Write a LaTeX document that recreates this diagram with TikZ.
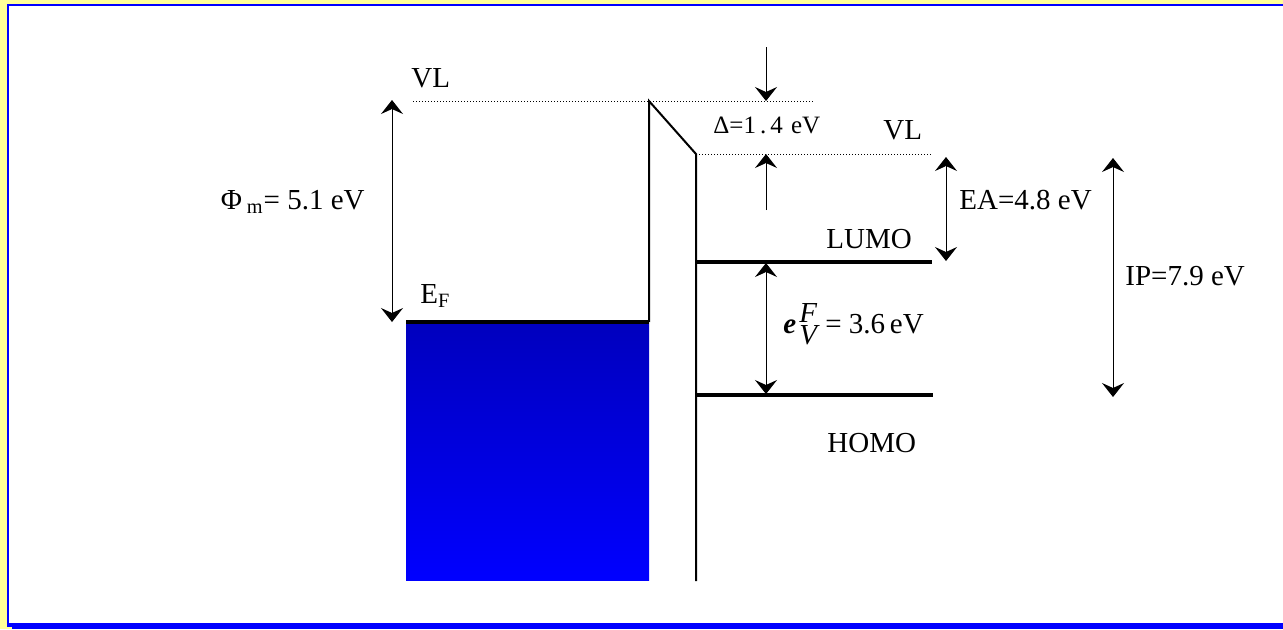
\documentclass[tikz,border=0pt]{standalone}
\usepackage{fontspec}
\setmainfont{Liberation Serif}
\usetikzlibrary{arrows.meta,positioning}
\definecolor{frameYellow}{HTML}{FFFF99}
\definecolor{frameBlue}{HTML}{0000FF}
\definecolor{metalTop}{HTML}{0000BE}
\definecolor{metalBot}{HTML}{0000FF}

\begin{document}
\begin{tikzpicture}[x=0.5pt,y=-0.5pt,font=\fontsize{14.5}{17}\selectfont,
  level/.style={line width=1.8pt},
  wall/.style={line width=1pt},
  vac/.style={line width=0.5pt,dash pattern=on 0.5pt off 1pt},
  gap/.style={line width=0.5pt,{Stealth[length=7pt,width=11pt,inset=2.5pt]}-{Stealth[length=7pt,width=11pt,inset=2.5pt]}},
  push/.style={line width=0.5pt,-{Stealth[length=7pt,width=11pt,inset=2.5pt]}},
  lab/.style={inner sep=0pt,anchor=base west}]
  \useasboundingbox (0,0) rectangle (1283,629);
  % frame
  \fill[frameYellow] (0,0) rectangle (1283,629);
  \fill[white] (8,5) rectangle (1283,624);
  \fill[frameBlue] (7,4) rectangle (1283,6);
  \fill[frameBlue] (7,4) rectangle (9,627);
  \fill[frameBlue] (8,623) rectangle (1283,627);
  \fill[frameBlue] (12,627) rectangle (1283,629);

  % metal
  \shade[top color=metalTop,bottom color=metalBot] (406,323) rectangle (649,580);
  \coordinate (efL) at (406,322);
  \coordinate (efR) at (649,322);
  \coordinate (vlM) at (649,101);
  \coordinate (vlO) at (696,154);
  \coordinate (orgB) at (696,581);
  \coordinate (vlML) at (413,101);
  \coordinate (vlMR) at (815,101);
  \coordinate (vlOR) at (933,154);
  \coordinate (lumoL) at (696,262);
  \coordinate (lumoR) at (932,262);
  \coordinate (homoL) at (696,395);
  \coordinate (homoR) at (933,395);
  \draw[level] (efL) -- (efR);
  \draw[wall] (efR) -- (vlM) -- (vlO) -- (orgB);
  \draw[vac] (vlML) -- (vlMR);
  \draw[vac] (vlO) -- (vlOR);
  \draw[level] (lumoL) -- (lumoR);
  \draw[level] (homoL) -- (homoR);

  % arrows
  \coordinate (phiT) at (392,100);
  \coordinate (phiB) at (392,322);
  \coordinate (dTopS) at (766,47);
  \coordinate (dTopE) at (766,101);
  \coordinate (dBotS) at (766,210);
  \coordinate (dBotE) at (766,154);
  \coordinate (egT) at (766,263);
  \coordinate (egB) at (766,394);
  \coordinate (eaT) at (946,157);
  \coordinate (eaB) at (946,261);
  \coordinate (ipT) at (1113,158);
  \coordinate (ipB) at (1113,397);
  \draw[gap] (phiT) -- (phiB);
  \draw[push] (dTopS) -- (dTopE);
  \draw[push] (dBotS) -- (dBotE);
  \draw[gap] (egT) -- (egB);
  \draw[gap] (eaT) -- (eaB);
  \draw[gap] (ipT) -- (ipB);

  % labels
  \node[lab] (vlMLab) at (411,87) {VL};
  \node[lab] (vlOLab) at (883,139) {VL};
  \node[lab,font=\fontsize{12.5}{15}\selectfont] (deltaLab) at (713,133) {Δ=1\kern2pt.\kern2pt4\kern1pt{} eV};
  \node[inner sep=0pt,anchor=base east] (phiLab) at (365,209) {Φ\,\textsubscript{m}= 5.1 eV};
  \node[lab] (efLab) at (420,303) {E\textsubscript{F}};
  \node[lab] (lumoLab) at (826,248) {LUMO};
  \node[lab] (homoLab) at (827,452) {HOMO};
  \node[lab] (gapLab) at (783,333) {${\textbf{\textit{e}}\kern1.5pt}^{\textit{F}}_{\textit{V}}$ = 3.6\,eV};
  \node[lab] (eaLab) at (959,209) {EA=4.8 eV};
  \node[lab] (ipLab) at (1125,285) {IP=7.9 eV};
\end{tikzpicture}
\end{document}
